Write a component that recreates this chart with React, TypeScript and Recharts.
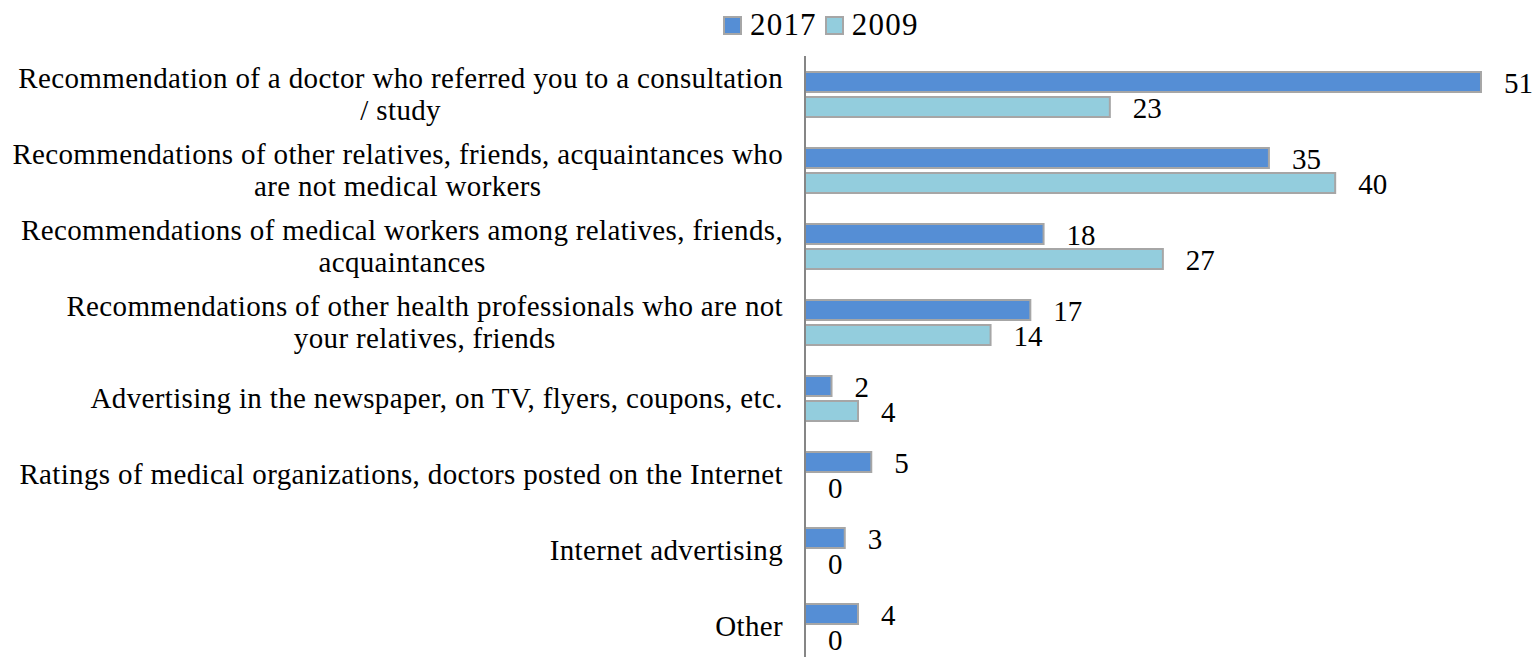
import { Bar, BarChart, LabelList, Rectangle, XAxis, YAxis } from "recharts";

const categories = [
  "Recommendation of a doctor who referred you to a consultation\n/ study",
  "Recommendations of other relatives, friends, acquaintances who\nare not medical workers",
  "Recommendations of medical workers among relatives, friends,\nacquaintances",
  "Recommendations of other health professionals who are not\nyour relatives, friends",
  "Advertising in the newspaper, on TV, flyers, coupons, etc.",
  "Ratings of medical organizations, doctors posted on the Internet",
  "Internet advertising",
  "Other",
];

const values2017 = [51, 35, 18, 17, 2, 5, 3, 4];
const values2009 = [23, 40, 27, 14, 4, 0, 0, 0];

const seriesNames = ["2017", "2009"];
const seriesColors = ["#558ed5", "#93cddd"];

const data = categories.map((category, i) => ({
  category,
  y2017: values2017[i],
  y2009: values2009[i],
}));

const FONT = '"Liberation Serif", "Times New Roman", serif';
const FONT_SIZE = 29;
const SPACING = 0.35;
const BORDER = "#a6a6a6";

let ctx: CanvasRenderingContext2D | null = null;
function measure(text: string) {
  if (!ctx) {
    ctx = document.createElement("canvas").getContext("2d");
  }
  const extra = text.length * SPACING;
  if (!ctx) return text.length * FONT_SIZE * 0.45 + extra;
  ctx.font = `${FONT_SIZE}px ${FONT}`;
  return ctx.measureText(text).width + extra;
}

function CategoryTick(props: any) {
  const { x, y, payload } = props;
  const lines: string[] = String(payload.value).split("\n");
  const block = Math.max(...lines.map(measure));
  const cx = x - block / 2;
  const lineHeight = 32;
  const top = y - ((lines.length - 1) * lineHeight) / 2;
  return (
    <g>
      {lines.map((line, i) => (
        <text
          key={i}
          x={cx}
          y={top + i * lineHeight}
          dy={10}
          textAnchor="middle"
          fill="#000"
          fontFamily={FONT}
          fontSize={FONT_SIZE}
          letterSpacing={SPACING}
        >
          {line}
        </text>
      ))}
    </g>
  );
}

// draws the bar only when it has a value, so zero rows keep just their label
function BarShape(props: any) {
  if (!props.value) return <g />;
  return <Rectangle {...props} />;
}

function ValueLabel(props: any) {
  const { x, y, width, height, value } = props;
  const w = Number(width) || 0;
  const left = Number(x) + (Number(value) ? w : 0) + 23;
  return (
    <text
      x={left}
      y={Number(y) + Number(height) / 2 + 11}
      fill="#000"
      fontFamily={FONT}
      fontSize={FONT_SIZE}
    >
      {value}
    </text>
  );
}

function LegendBox() {
  return (
    <div
      style={{
        position: "absolute",
        left: 723,
        top: 9,
        display: "flex",
        alignItems: "center",
        fontFamily: FONT,
        fontSize: 31,
        letterSpacing: 1.2,
        lineHeight: "32px",
        color: "#000",
      }}
    >
      {seriesNames.map((name, i) => (
        <span key={name} style={{ display: "flex", alignItems: "center", marginRight: 8 }}>
          <span
            style={{
              display: "inline-block",
              width: 15,
              height: 15,
              background: seriesColors[i],
              border: `2px solid ${BORDER}`,
              marginRight: 8,
            }}
          />
          {name}
        </span>
      ))}
    </div>
  );
}

export default function App() {
  return (
    <div
      style={{
        position: "absolute",
        left: 0,
        top: 0,
        width: 1534,
        height: 657,
        overflow: "hidden",
        background: "#fff",
        fontFamily: FONT,
      }}
    >
      <LegendBox />
      <BarChart
        width={1534}
        height={664}
        data={data}
        layout="vertical"
        margin={{ top: 56, right: 0, bottom: 0, left: 0 }}
        barGap={5}
      >
        <XAxis type="number" domain={[0, 55]} hide />
        <YAxis
          type="category"
          dataKey="category"
          width={805}
          interval={0}
          tickLine={false}
          tickSize={0}
          tickMargin={22}
          axisLine={{ stroke: "#868686", strokeWidth: 2 }}
          tick={<CategoryTick />}
        />
        <Bar
          dataKey="y2017"
          name={seriesNames[0]}
          fill={seriesColors[0]}
          stroke={BORDER}
          strokeWidth={2}
          barSize={20}
          minPointSize={1}
          shape={<BarShape />}
          isAnimationActive={false}
        >
          <LabelList dataKey="y2017" content={<ValueLabel />} />
        </Bar>
        <Bar
          dataKey="y2009"
          name={seriesNames[1]}
          fill={seriesColors[1]}
          stroke={BORDER}
          strokeWidth={2}
          barSize={20}
          minPointSize={1}
          shape={<BarShape />}
          isAnimationActive={false}
        >
          <LabelList dataKey="y2009" content={<ValueLabel />} />
        </Bar>
      </BarChart>
    </div>
  );
}
